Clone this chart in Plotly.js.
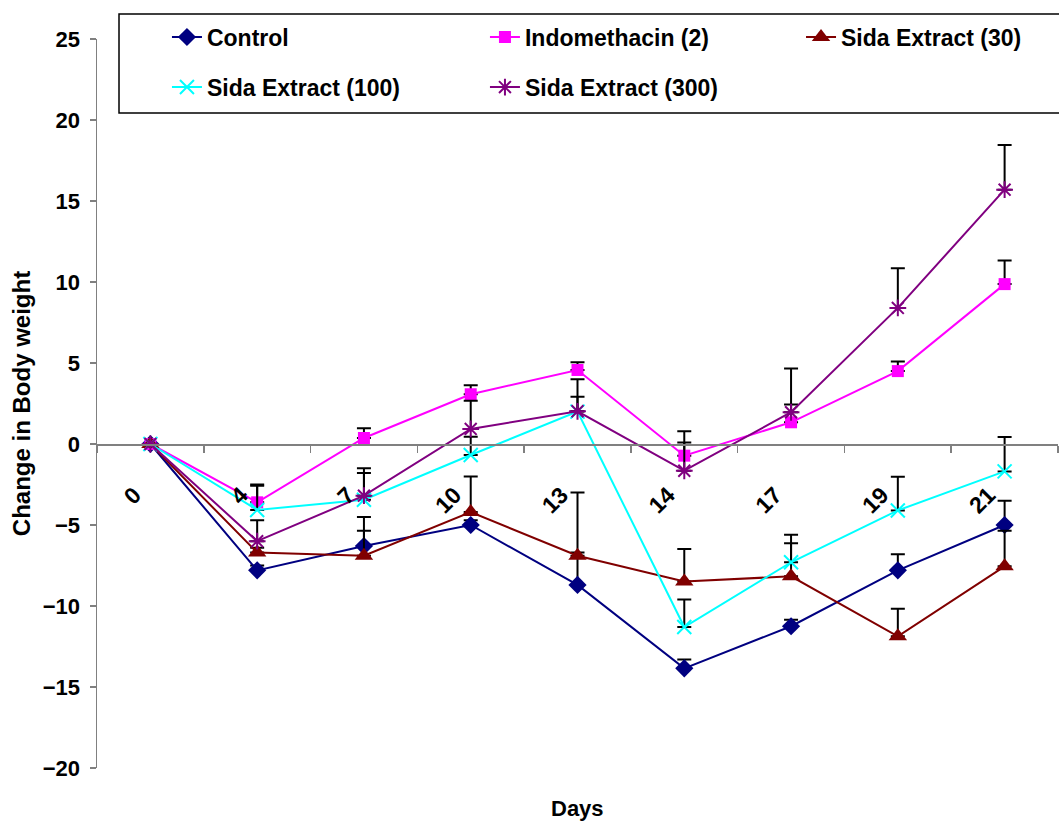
<!DOCTYPE html>
<html>
<head>
<meta charset="utf-8">
<script src="https://cdn.plot.ly/plotly-3.0.1.min.js"></script>
<style>html,body{margin:0;padding:0;background:#fff;}#chart{width:1059px;height:821px;}</style>
</head>
<body>
<div id="chart"></div>
<script>
var days = ['0', '4', '7', '10', '13', '14', '17', '19', '21'];

var control      = [0, -7.8, -6.3, -5.0, -8.7, -13.85, -11.25, -7.8, -5.0];
var controlErr   = [0, 0.3, 0.95, 0.3, 5.7, 0.55, 0.4, 1.0, 1.5];

var indomethacin    = [0, -3.6, 0.37, 3.07, 4.57, -0.72, 1.34, 4.5, 9.87];
var indomethacinErr = [0, 1.1, 0.6, 0.55, 0.47, 1.5, 1.1, 0.6, 1.45];

var sida30     = [0, -6.7, -6.9, -4.2, -6.9, -8.48, -8.17, -11.87, -7.55];
var sida30Err  = [0, 0.3, 2.4, 2.2, 0.2, 2.0, 2.05, 1.7, 2.2];

var sida100    = [0, -4.07, -3.44, -0.68, 2.0, -11.3, -7.3, -4.1, -1.69];
var sida100Err = [0, 1.5, 1.65, 1.13, 2.0, 1.7, 1.7, 2.08, 2.12];

var sida300    = [0, -6.0, -3.19, 0.93, 2.02, -1.65, 1.96, 8.4, 15.7];
var sida300Err = [0, 1.3, 1.7, 1.74, 0.9, 1.75, 2.7, 2.45, 2.75];

var seriesNames = ['Control', 'Indomethacin (2)', 'Sida Extract (30)', 'Sida Extract (100)', 'Sida Extract (300)'];

function zeros(n) { var a = []; for (var i = 0; i < n; i++) a.push(0); return a; }

function mk(name, y, err, color, symbol, size, lw, legendId) {
  return {
    type: 'scatter', mode: 'lines+markers', name: name, legend: legendId,
    x: days, y: y,
    line: {color: color, width: 2},
    marker: {color: color, symbol: symbol, size: size, line: {color: color, width: lw}},
    error_y: {type: 'data', symmetric: false, array: err, arrayminus: zeros(err.length),
              color: '#000000', thickness: 2, width: 7}
  };
}

var traces = [
  mk(seriesNames[0], control, controlErr, '#000080', 'diamond', 14, 0, 'legend'),
  mk(seriesNames[1], indomethacin, indomethacinErr, '#FF00FF', 'square', 12, 0, 'legend2'),
  mk(seriesNames[2], sida30, sida30Err, '#800000', 'triangle-up', 16, 0, 'legend3'),
  mk(seriesNames[3], sida100, sida100Err, '#00FFFF', 'x-thin-open', 14, 2, 'legend4'),
  mk(seriesNames[4], sida300, sida300Err, '#800080', 'asterisk-open', 14, 2, 'legend5')
];

var yMin = -20, yMax = 25;
var fam = 'Liberation Sans, Arial, sans-serif';
var boldFont = {family: fam, size: 22, color: '#000000', weight: 'bold'};
var tickFontX = {family: fam, size: 23, color: '#000000', weight: 'bold'};
var legendFont = {family: fam, size: 23, color: '#000000', weight: 'bold'};

function leg(x, y) {
  return {x: x, xanchor: 'left', y: y, yanchor: 'middle', bgcolor: 'rgba(0,0,0,0)',
          borderwidth: 0, font: legendFont, itemwidth: 30};
}

var layout = {
  width: 1059, height: 821,
  margin: {l: 97, r: 1, t: 39, b: 53},
  paper_bgcolor: '#ffffff', plot_bgcolor: '#ffffff',
  showlegend: true,
  xaxis: {
    type: 'category', range: [-0.5, 8.5],
    anchor: 'free', position: (0 - yMin) / (yMax - yMin),
    showline: true, linecolor: '#808080', linewidth: 1.5,
    ticks: 'outside', ticklen: 7, tickcolor: '#808080', tickwidth: 1.5,
    tickson: 'boundaries', showgrid: false, zeroline: false,
    tickangle: -45, tickfont: tickFontX,
    ticklabelstandoff: 27, ticklabelshift: -16
  },
  yaxis: {
    range: [yMin, yMax], dtick: 5, tick0: 0,
    showline: true, linecolor: '#808080', linewidth: 1.5,
    ticks: 'outside', ticklen: 6, tickcolor: '#808080', tickwidth: 1.5,
    showgrid: false, zeroline: false,
    tickfont: boldFont, ticklabelstandoff: 5,
    title: {text: 'Change in Body weight', font: {family: fam, size: 24, color: '#000000', weight: 'bold'}, standoff: 5}
  },
  legend:  leg(0.0728, 1.0027),
  legend2: leg(0.4037, 1.0027),
  legend3: leg(0.7326, 1.0027),
  legend4: leg(0.0728, 0.934),
  legend5: leg(0.4037, 0.934),
  shapes: [{
    type: 'rect', xref: 'paper', yref: 'paper', layer: 'above',
    x0: 0.0229, x1: 1.02, y0: 0.8985, y1: 1.0343,
    line: {color: '#000000', width: 1.5}, fillcolor: 'rgba(255,255,255,0)'
  }],
  annotations: [{
    text: 'Days', xref: 'paper', yref: 'paper', x: 0.5, y: 0,
    xanchor: 'center', yanchor: 'middle', yshift: -40, showarrow: false,
    font: boldFont
  }]
};

Plotly.newPlot('chart', traces, layout, {displayModeBar: false, staticPlot: true});
</script>
</body>
</html>
